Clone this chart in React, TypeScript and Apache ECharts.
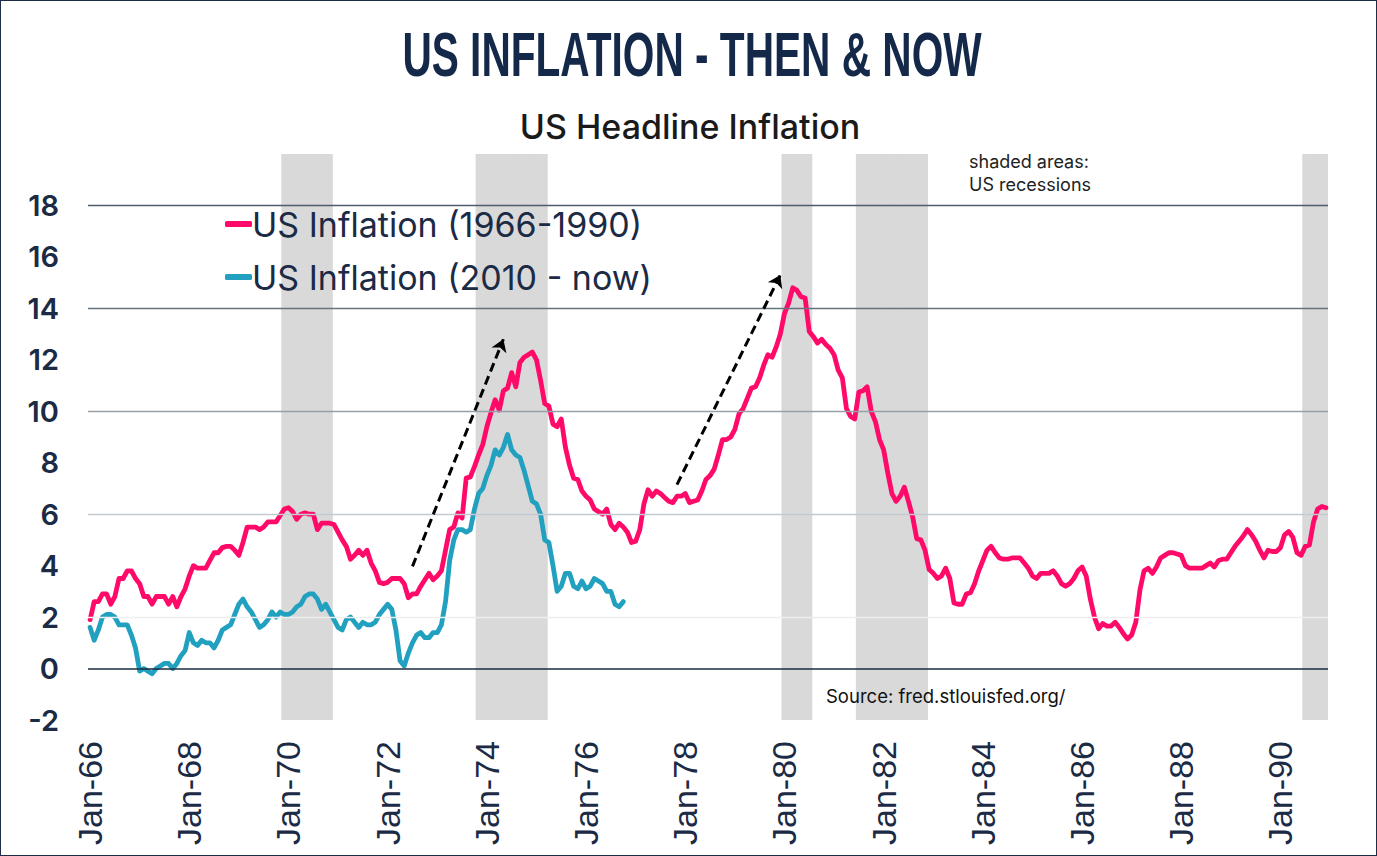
import React, { useEffect, useRef } from "react";
import * as echarts from "echarts";

const MONTHS = ["Jan", "Feb", "Mar", "Apr", "May", "Jun", "Jul", "Aug", "Sep", "Oct", "Nov", "Dec"];
const YEARS = ["66", "67", "68", "69", "70", "71", "72", "73", "74", "75", "76", "77", "78", "79", "80", "81", "82", "83", "84", "85", "86", "87", "88", "89", "90"];

// US CPI YoY %, Jan-1966 .. Dec-1990
const INFLATION_1966_1990 = [
  1.9, 2.6, 2.6, 2.9, 2.9, 2.5, 2.8, 3.5, 3.5, 3.8, 3.8, 3.5,
  3.3, 2.8, 2.8, 2.5, 2.8, 2.8, 2.8, 2.5, 2.8, 2.4, 2.8, 3.1,
  3.6, 4.0, 3.9, 3.9, 3.9, 4.2, 4.5, 4.5, 4.7, 4.75, 4.75, 4.6,
  4.4, 4.9, 5.5, 5.5, 5.5, 5.4, 5.5, 5.7, 5.7, 5.7, 5.95, 6.2,
  6.25, 6.1, 5.8, 6.0, 6.05, 6.0, 6.0, 5.4, 5.65, 5.65, 5.65, 5.6,
  5.3, 5.0, 4.75, 4.25, 4.4, 4.6, 4.4, 4.6, 4.1, 3.8, 3.35, 3.3,
  3.35, 3.5, 3.5, 3.5, 3.3, 2.75, 2.9, 2.9, 3.2, 3.45, 3.7, 3.45,
  3.6, 3.8, 4.6, 5.4, 5.5, 6.05, 5.85, 7.4, 7.45, 7.85, 8.3, 8.7,
  9.4, 9.95, 10.45, 10.05, 10.8, 10.9, 11.5, 10.95, 11.9, 12.1, 12.2, 12.3,
  12.0, 11.2, 10.3, 10.2, 9.5, 9.4, 9.7, 8.6, 7.9, 7.4, 7.35, 6.9,
  6.7, 6.55, 6.2, 6.1, 6.0, 6.2, 5.6, 5.4, 5.65, 5.5, 5.3, 4.9,
  4.95, 5.4, 6.4, 6.95, 6.7, 6.9, 6.8, 6.65, 6.5, 6.45, 6.7, 6.7,
  6.8, 6.45, 6.5, 6.55, 6.9, 7.35, 7.5, 7.75, 8.3, 8.9, 8.9, 9.0,
  9.3, 9.9, 10.1, 10.5, 10.9, 10.95, 11.3, 11.8, 12.2, 12.1, 12.5, 13.0,
  13.8, 14.2, 14.8, 14.7, 14.45, 14.4, 13.1, 12.9, 12.65, 12.8, 12.6, 12.45,
  12.2, 11.6, 11.3, 10.1, 9.8, 9.7, 10.75, 10.8, 10.95, 10.0, 9.6, 8.9,
  8.5, 7.6, 6.8, 6.5, 6.7, 7.05, 6.5, 5.9, 5.05, 5.0, 4.6, 3.85,
  3.7, 3.5, 3.6, 3.9, 3.5, 2.55, 2.5, 2.5, 2.9, 2.95, 3.3, 3.8,
  4.2, 4.6, 4.75, 4.5, 4.3, 4.25, 4.25, 4.3, 4.3, 4.3, 4.1, 3.9,
  3.6, 3.5, 3.7, 3.7, 3.7, 3.8, 3.6, 3.3, 3.2, 3.3, 3.5, 3.8,
  3.95, 3.6, 2.7, 2.0, 1.55, 1.75, 1.65, 1.65, 1.8, 1.6, 1.35, 1.15,
  1.3, 1.8, 3.05, 3.8, 3.9, 3.7, 3.95, 4.3, 4.4, 4.5, 4.5, 4.45,
  4.4, 4.0, 3.9, 3.9, 3.9, 3.9, 4.0, 4.1, 3.95, 4.2, 4.25, 4.25,
  4.5, 4.75, 4.95, 5.15, 5.4, 5.2, 4.95, 4.6, 4.3, 4.6, 4.55, 4.55,
  4.7, 5.2, 5.33, 5.1, 4.5, 4.4, 4.75, 4.8, 5.7, 6.2, 6.3, 6.25,
];

// US CPI YoY %, recent period, aligned to start at Jan-66 on the shared axis
const INFLATION_RECENT = [
  1.6, 1.1, 1.5, 2.0, 2.1, 2.1, 2.0, 1.7, 1.7, 1.7, 1.3, 0.8,
  -0.1, 0.0, -0.1, -0.2, 0.0, 0.1, 0.2, 0.2, 0.0, 0.2, 0.5, 0.7,
  1.4, 1.0, 0.9, 1.1, 1.0, 1.0, 0.8, 1.1, 1.5, 1.6, 1.7, 2.1,
  2.5, 2.7, 2.4, 2.2, 1.9, 1.6, 1.7, 1.9, 2.2, 2.0, 2.2, 2.1,
  2.1, 2.2, 2.4, 2.5, 2.8, 2.9, 2.9, 2.7, 2.3, 2.5, 2.2, 1.9,
  1.6, 1.5, 1.9, 2.0, 1.8, 1.6, 1.8, 1.7, 1.7, 1.8, 2.1, 2.3,
  2.5, 2.3, 1.5, 0.3, 0.1, 0.6, 1.0, 1.3, 1.4, 1.2, 1.2, 1.4,
  1.4, 1.7, 2.6, 4.2, 5.0, 5.4, 5.4, 5.3, 5.4, 6.2, 6.8, 7.0,
  7.5, 7.9, 8.5, 8.3, 8.6, 9.1, 8.5, 8.3, 8.2, 7.7, 7.1, 6.5,
  6.4, 6.0, 5.0, 4.9, 4.0, 3.0, 3.2, 3.7, 3.7, 3.2, 3.1, 3.4,
  3.1, 3.2, 3.5, 3.4, 3.3, 3.0, 3.0, 2.5, 2.4, 2.6,
];

const RECESSIONS = [
  ["Dec-69", "Nov-70"],
  ["Nov-73", "Mar-75"],
  ["Jan-80", "Jul-80"],
  ["Jul-81", "Nov-82"],
  ["Jul-90", "Dec-90"],
];

const GRID_LEVELS = [2, 6, 10, 14, 18];
const GRID_COLORS = ["#efefef", "#c3cad3", "#979fa9", "#67737f", "#4e5b6a"];

const ARROWS = [
  { from: ["Jul-72", 3.97], to: ["May-74", 12.8] },
  { from: ["Nov-77", 7.15], to: ["Dec-79", 15.3] },
];

const SERIES_NAMES = ["US Inflation (1966-1990)", "US Inflation (2010 - now)"];
const PINK = "#ff0a68";
const BLUE = "#22a0bf";
const NAVY = "#1b2a45";

const categories = YEARS.flatMap((y) => MONTHS.map((m) => `${m}-${y}`));

export default function App() {
  const ref = useRef<HTMLDivElement>(null);

  useEffect(() => {
    if (!ref.current) return;
    const chart = echarts.init(ref.current, undefined, { renderer: "svg" });

    const shade = categories.map(() => null as number | null);
    RECESSIONS.forEach(([a, b]) => {
      const s = categories.indexOf(a);
      const e = categories.indexOf(b);
      for (let i = s; i <= e; i++) shade[i] = 1;
    });
    const empty = categories.map(() => null);

    const gridMarks: any[] = GRID_LEVELS.map((v, i) => ({
      yAxis: v,
      lineStyle: { color: GRID_COLORS[i], width: 1.3, type: "solid" },
    }));
    gridMarks.push({ yAxis: 0, lineStyle: { color: "#1b2a40", width: 1.6, type: "solid" } });

    const arrowMarks = ARROWS.map((a) => [
      { coord: [categories.indexOf(a.from[0] as string), a.from[1]] },
      { coord: [categories.indexOf(a.to[0] as string), a.to[1]] },
    ]);

    chart.setOption({
      animation: false,
      backgroundColor: "#ffffff",
      grid: { left: 88, right: 49, top: 154, bottom: 136, containLabel: false },
      legend: {
        data: SERIES_NAMES,
        orient: "vertical",
        left: 220,
        top: 202,
        itemGap: 19,
        itemWidth: 27,
        itemHeight: 6,
        icon: "roundRect",
        textStyle: { fontFamily: "Inter", fontSize: 34, color: NAVY, padding: [0, 0, 0, -5] },
      },
      xAxis: {
        type: "category",
        data: categories,
        boundaryGap: true,
        axisLine: { show: false, onZero: false },
        axisTick: { show: false },
        splitLine: { show: false },
        axisLabel: {
          interval: 23,
          rotate: 90,
          margin: 21,
          fontFamily: "Liberation Sans",
          fontSize: 34,
          color: NAVY,
        },
      },
      yAxis: [
        {
          type: "value",
          min: -2,
          max: 20,
          interval: 2,
          axisLine: { show: false },
          axisTick: { show: false },
          splitLine: { show: false },
          axisLabel: {
            margin: 29,
            fontFamily: "Inter",
            fontWeight: 600,
            fontSize: 29,
            color: NAVY,
            formatter: (v: number) => (v === 20 ? "" : String(v)),
          },
        },
        { type: "value", min: 0, max: 1, show: false },
      ],
      series: [
        {
          name: "recessions",
          type: "bar",
          yAxisIndex: 1,
          data: shade,
          barWidth: 6,
          barGap: "-100%",
          itemStyle: { color: "#d9d9d9" },
          silent: true,
          z: 1,
        },
        {
          name: "gridlines",
          type: "line",
          data: empty,
          showSymbol: false,
          silent: true,
          z: 2,
          markLine: {
            silent: true,
            symbol: "none",
            label: { show: false },
            data: gridMarks,
            animation: false,
          },
        },
        {
          name: SERIES_NAMES[0],
          type: "line",
          data: INFLATION_1966_1990,
          showSymbol: false,
          color: PINK,
          lineStyle: { color: PINK, width: 4.8, cap: "round", join: "round" },
          z: 3,
        },
        {
          name: SERIES_NAMES[1],
          type: "line",
          data: INFLATION_RECENT,
          showSymbol: false,
          color: BLUE,
          lineStyle: { color: BLUE, width: 4.8, cap: "round", join: "round" },
          z: 4,
        },
        {
          name: "arrows",
          type: "line",
          data: empty,
          showSymbol: false,
          silent: true,
          z: 5,
          markLine: {
            silent: true,
            symbol: ["none", "arrow"],
            symbolSize: 12,
            label: { show: false },
            lineStyle: { color: "#000000", width: 3, type: [9, 5] },
            itemStyle: { color: "#000000" },
            data: arrowMarks,
            animation: false,
          },
        },
      ],
      graphic: [
        {
          type: "text",
          x: 692,
          y: 54,
          z: 100,
          scaleX: 0.645,
          silent: true,
          style: {
            text: "US INFLATION - THEN & NOW",
            fontFamily: "Liberation Sans",
            fontWeight: "bold",
            fontSize: 63,
            fill: "#14294a",
            align: "center",
            verticalAlign: "middle",
          },
        },
        {
          type: "text",
          x: 690,
          y: 126,
          z: 100,
          silent: true,
          style: {
            text: "US Headline Inflation",
            fontFamily: "Inter",
            fontWeight: 500,
            fontSize: 34,
            fill: "#1a1a1a",
            align: "center",
            verticalAlign: "middle",
          },
        },
        {
          type: "text",
          x: 969,
          y: 150,
          z: 100,
          silent: true,
          style: {
            text: "shaded areas:\nUS recessions",
            fontFamily: "Inter",
            fontSize: 18,
            lineHeight: 23,
            fill: "#222222",
            align: "left",
            verticalAlign: "top",
          },
        },
        {
          type: "text",
          x: 826,
          y: 696,
          z: 100,
          silent: true,
          style: {
            text: "Source: fred.stlouisfed.org/",
            fontFamily: "Inter",
            fontSize: 18.5,
            fill: "#111111",
            align: "left",
            verticalAlign: "middle",
          },
        },
      ],
    });

    return () => chart.dispose();
  }, []);

  return (
    <div style={{ position: "absolute", left: 0, top: 0, width: 1377, height: 856 }}>
      <div ref={ref} style={{ width: 1377, height: 856 }} />
      <div
        style={{
          position: "absolute",
          left: 0,
          top: 0,
          width: 1377,
          height: 856,
          boxSizing: "border-box",
          border: "1.5px solid #1c2d47",
          pointerEvents: "none",
        }}
      />
    </div>
  );
}
